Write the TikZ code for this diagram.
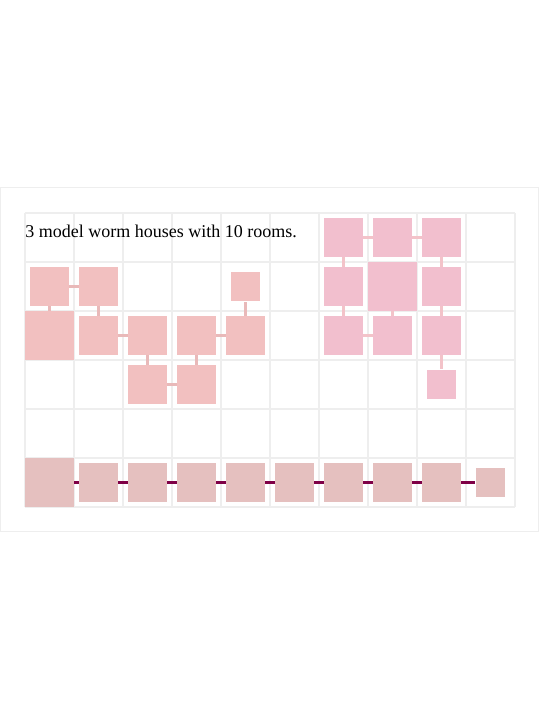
\documentclass[tikz,border=0pt]{standalone}
\usepackage{fontspec}
\setmainfont{Liberation Serif}
\usetikzlibrary{positioning}
\definecolor{gridgray}{HTML}{EEEEEE}
\definecolor{houseA}{HTML}{F2C0C0}
\definecolor{tunnelA}{HTML}{E9B9B9}
\definecolor{houseB}{HTML}{F2BFCE}
\definecolor{tunnelB}{HTML}{F3C3C9}
\definecolor{houseC}{HTML}{E5C0BF}
\definecolor{tunnelC}{HTML}{7F0046}
\tikzset{every picture/.style={line width=0.75pt}}

\begin{document}
\begin{tikzpicture}[x=49pt, y=-49pt,
    room/.style={fill=#1, minimum size=39pt, inner sep=0pt},
    bigroom/.style={room=#1, minimum size=49pt},
    smallroom/.style={room=#1, minimum size=29.5pt},
    tunnel/.style={draw=#1, line width=3pt}]
    \useasboundingbox (-25pt,213pt) rectangle (515pt,-507pt);
    \draw[gridgray, line width=1.2pt] (-24.3pt,25.5pt) rectangle (513.8pt,-318.7pt);
    \draw[gridgray, line width=1.3pt, step=49pt] (0,0) grid (10,6);
    \node[anchor=base west, inner sep=0pt, font=\fontsize{18}{20}\selectfont] (title) at (0,0.496) {3 model worm houses with 10 rooms.};

    % first house
    \node[room=houseA] (a1) at (0.5,1.5) {};
    \node[room=houseA] (a2) at (1.5,1.5) {};
    \node[smallroom=houseA] (a3) at (4.5,1.5) {};
    \node[bigroom=houseA] (a4) at (0.5,2.5) {};
    \node[room=houseA] (a5) at (1.5,2.5) {};
    \node[room=houseA] (a6) at (2.5,2.5) {};
    \node[room=houseA] (a7) at (3.5,2.5) {};
    \node[room=houseA] (a8) at (4.5,2.5) {};
    \node[room=houseA] (a9) at (2.5,3.5) {};
    \node[room=houseA] (a10) at (3.5,3.5) {};
    \draw[tunnel=tunnelA] (a1) -- (a2);
    \draw[tunnel=tunnelA] (a1) -- (a4);
    \draw[tunnel=tunnelA] (a2) -- (a5);
    \draw[tunnel=tunnelA] (a5) -- (a6);
    \draw[tunnel=tunnelA] (a6) -- (a9);
    \draw[tunnel=tunnelA] (a9) -- (a10);
    \draw[tunnel=tunnelA] (a10) -- (a7);
    \draw[tunnel=tunnelA] (a7) -- (a8);
    \draw[tunnel=tunnelA] (a8) -- (a3);

    % second house
    \node[room=houseB] (b1) at (6.5,0.5) {};
    \node[room=houseB] (b2) at (7.5,0.5) {};
    \node[room=houseB] (b3) at (8.5,0.5) {};
    \node[room=houseB] (b4) at (6.5,1.5) {};
    \node[bigroom=houseB] (b5) at (7.5,1.5) {};
    \node[room=houseB] (b6) at (8.5,1.5) {};
    \node[room=houseB] (b7) at (6.5,2.5) {};
    \node[room=houseB] (b8) at (7.5,2.5) {};
    \node[room=houseB] (b9) at (8.5,2.5) {};
    \node[smallroom=houseB] (b10) at (8.5,3.5) {};
    \draw[tunnel=tunnelB] (b1) -- (b2);
    \draw[tunnel=tunnelB] (b2) -- (b3);
    \draw[tunnel=tunnelB] (b1) -- (b4);
    \draw[tunnel=tunnelB] (b3) -- (b6);
    \draw[tunnel=tunnelB] (b4) -- (b7);
    \draw[tunnel=tunnelB] (b5) -- (b8);
    \draw[tunnel=tunnelB] (b6) -- (b9);
    \draw[tunnel=tunnelB] (b7) -- (b8);
    \draw[tunnel=tunnelB] (b9) -- (b10);

    % third house, one long row
    \node[bigroom=houseC] (c1) at (0.5,5.5) {};
    \foreach \i in {2,...,9}
        \node[room=houseC] (c\i) at (\i-0.5,5.5) {};
    \node[smallroom=houseC] (c10) at (9.5,5.5) {};
    \foreach \i [evaluate=\i as \j using int(\i+1)] in {1,...,9}
        \draw[tunnel=tunnelC] (c\i) -- (c\j);
\end{tikzpicture}
\end{document}
